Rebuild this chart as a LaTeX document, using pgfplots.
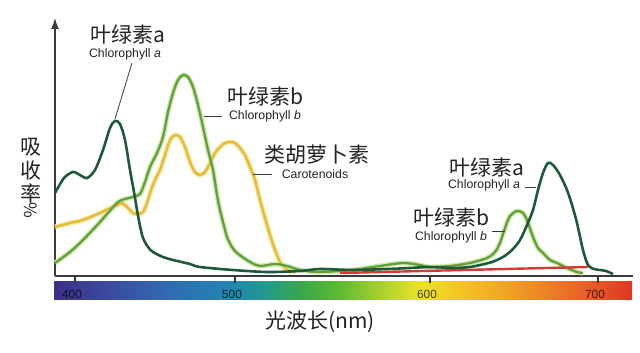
\documentclass[border=0pt]{standalone}
\usepackage{pgfplots}
\pgfplotsset{compat=1.18}
\usepackage{fontspec}
\setmainfont{Liberation Sans}
\newfontfamily\cjk{Noto Sans CJK SC}
\usetikzlibrary{arrows.meta}

\definecolor{chla}{HTML}{1E5A3A}
\definecolor{chlb}{HTML}{62A03E}
\definecolor{chlbglow}{HTML}{D2EAAE}
\definecolor{caro}{HTML}{E8BA3C}
\definecolor{caroglow}{HTML}{F8E8A4}
\definecolor{redline}{HTML}{D23A32}
\definecolor{axisgray}{HTML}{3A3A3A}
\definecolor{txt}{HTML}{222222}

\definecolor{sp0}{HTML}{3B2F88}
\definecolor{sp1}{HTML}{3B4AA0}
\definecolor{sp2}{HTML}{2F6CB4}
\definecolor{sp3}{HTML}{1F88B0}
\definecolor{sp4}{HTML}{239A8C}
\definecolor{sp5}{HTML}{38A84A}
\definecolor{sp6}{HTML}{5CBA32}
\definecolor{sp7}{HTML}{A8D030}
\definecolor{sp8}{HTML}{ECE424}
\definecolor{sp9}{HTML}{F4C424}
\definecolor{sp10}{HTML}{F0A024}
\definecolor{sp11}{HTML}{EA7428}
\definecolor{sp12}{HTML}{E65428}
\definecolor{sp13}{HTML}{E03624}

\pgfdeclarehorizontalshading{spectrum}{100bp}{
color(0bp)=(sp0); color(25bp)=(sp0); color(29.8bp)=(sp1); color(35bp)=(sp2);
color(40.7bp)=(sp3); color(43.3bp)=(sp4); color(46.3bp)=(sp5); color(49.7bp)=(sp6);
color(53.2bp)=(sp7); color(56.7bp)=(sp8); color(60.1bp)=(sp9); color(64.4bp)=(sp10);
color(68.8bp)=(sp11); color(72.2bp)=(sp12); color(75bp)=(sp13); color(100bp)=(sp13)}

\pgfplotstableread{
x y
55 83
64 98
73 104
80 101
87 98
95 106
103 126
110 148
115 155
120 152
125 136
130 106
134 84
137 66
140 50
143 38
148 29
153 24
163 19
173 16
190 12
200 9
233 6
267 4
300 5
320 7
353 6
387 7
410 8
430 9
453 8
470 9
480 11
492 14
503 19
512 26
520 36
527 51
533 66
538 86
543 103
548 113
553 111
560 101
567 86
572 71
577 53
583 26
588 11
594 7
600 6
606 5
613 2
}\chla

\pgfplotstableread{
x y
55 13
70 24
83 36
100 54
117 73
125 77
133 79
140 82
145 94
150 109
157 123
163 139
168 164
173 183
178 196
183 201
188 199
193 189
198 171
203 149
208 126
213 106
217 81
220 66
224 50
227 39
232 29
237 23
250 14
260 10
275 12
287 10
300 6
317 4
340 5
353 6
380 10
403 13
420 11
430 9
450 10
470 13
487 18
495 24
500 33
505 48
510 60
517 65
523 63
527 56
533 39
538 28
543 23
550 16
557 13
567 8
577 4
583 3
}\chlb

\pgfplotstableread{
x y
55 49
70 53
83 56
100 63
117 71
122 73
128 68
133 63
138 62
143 64
147 73
150 83
155 96
160 106
165 121
170 136
175 141
180 139
185 129
190 114
195 104
200 101
205 104
210 113
215 123
220 129
225 133
230 134
235 133
240 128
245 121
250 109
255 96
260 76
265 58
270 41
275 26
280 14
285 8
290 5
295 4
}\caro

\pgfplotstableread{
x y
340 3
588 9
}\redl

\begin{document}
\begin{tikzpicture}
\useasboundingbox (0,0) rectangle (640pt,353pt);
% spectrum bar (background decoration, pixel positions 54..632 x 282..300)
\shade[shading=spectrum] (54pt,53pt) rectangle (632pt,71pt);
\begin{axis}[
  at={(55pt,77pt)}, anchor=south west,
  scale only axis, width=578pt, height=258pt,
  xmin=55, xmax=633, ymin=0, ymax=258,
  clip=false,
  axis lines=left,
  x axis line style={-, axisgray, line width=1.4pt},
  y axis line style={-{Latex[length=11pt,width=8pt]}, axisgray, line width=1.4pt},
  ytick=\empty,
  xtick={75,235,430,598},
  xticklabels={400,500,600,700},
  tick align=outside,
  major tick length=7pt,
  tick style={axisgray, line width=1.2pt},
  xticklabel style={font=\fontsize{11.8}{12}\selectfont, text=black, text opacity=0.72, anchor=center, xshift=-3pt, yshift=-11pt},
]
% carotenoids
\addplot[caroglow, line width=5pt, smooth, tension=0.5] table {\caro};
% chlorophyll b
\addplot[chlbglow, line width=5pt, smooth, tension=0.5] table {\chlb};
\addplot[caro, line width=2.4pt, smooth, tension=0.5] table {\caro};
\addplot[chlb, line width=2.3pt, smooth, tension=0.5] table {\chlb};
% red line
\addplot[redline, line width=2.4pt] table {\redl};
% chlorophyll a
\addplot[chla, line width=2.6pt, smooth, tension=0.5] table {\chla};

% leader lines
\draw[axisgray, line width=0.8pt] (axis cs:132,213) -- (axis cs:115,157);
\draw[axisgray, line width=0.8pt] (axis cs:204,160) -- (axis cs:222,160);
\draw[axisgray, line width=0.8pt] (axis cs:253,102) -- (axis cs:272,102);
\draw[axisgray, line width=0.8pt] (axis cs:525,89) -- (axis cs:536,89);
\draw[axisgray, line width=0.8pt] (axis cs:492,45) -- (axis cs:505,45);

% labels
\node[txt, font=\cjk\fontsize{21}{22}\selectfont] at (axis cs:128,241) {叶绿素a};
\node[txt, font=\fontsize{12.3}{13}\selectfont] at (axis cs:125,222) {Chlorophyll \textit{a}};
\node[txt, font=\cjk\fontsize{21}{22}\selectfont] at (axis cs:265,179) {叶绿素b};
\node[txt, font=\fontsize{12.3}{13}\selectfont] at (axis cs:265,160) {Chlorophyll \textit{b}};
\node[txt, font=\cjk\fontsize{21}{22}\selectfont] at (axis cs:317,121) {类胡萝卜素};
\node[txt, font=\fontsize{12.3}{13}\selectfont] at (axis cs:315,102) {Carotenoids};
\node[txt, font=\cjk\fontsize{21}{22}\selectfont] at (axis cs:487,108) {叶绿素a};
\node[txt, font=\fontsize{12.3}{13}\selectfont] at (axis cs:484,91) {Chlorophyll \textit{a}};
\node[txt, font=\cjk\fontsize{21}{22}\selectfont] at (axis cs:451,58) {叶绿素b};
\node[txt, font=\fontsize{12.3}{13}\selectfont] at (axis cs:451,39) {Chlorophyll \textit{b}};

% axis titles
\node[txt, font=\cjk\fontsize{21}{22}\selectfont] at (axis cs:320,-46) {光波长(nm)};
\node[txt, font=\cjk\fontsize{21}{22}\selectfont] at (axis cs:31,129) {吸};
\node[txt, font=\cjk\fontsize{21}{22}\selectfont] at (axis cs:31,105) {收};
\node[txt, font=\cjk\fontsize{21}{22}\selectfont] at (axis cs:31,83) {率};
\node[txt, font=\cjk\fontsize{17}{18}\selectfont, rotate=-90] at (axis cs:31,66) {\%};
\end{axis}
\end{tikzpicture}
\end{document}
